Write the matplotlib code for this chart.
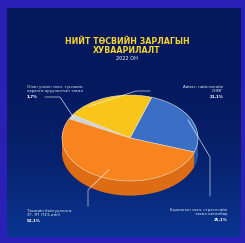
import numpy as np
import matplotlib
matplotlib.use('Agg')
import matplotlib.pyplot as plt
from matplotlib.colors import LinearSegmentedColormap

# Datos del grafico
etiquetas = ['Бодлогын зээл, стратегийн\nтөсөл хөтөлбөр',
             'Аймаг, нийслэлийн\nОНӨГ',
             'Олон улсын зээл, тусламж,\nхөрөнгө оруулалтын төсөл',
             'Төсвийн байгууллага,\nЗГ, ЯТ (ТЕЗ-ийн)']
porcentajes = [25.1, 21.1, 1.7, 52.1]
colores = ['#3b6fc6', '#f9c51a', '#cfd3d8', '#f7841e']
colores_lado = ['#2a55a3', '#d9a712', '#a6acb4', '#de6c14']

titulo = 'НИЙТ ТӨСВИЙН ЗАРЛАГЫН\nХУВААРИЛАЛТ'
subtitulo = '2022 ОН'

W, H = 245, 243
fig = plt.figure(figsize=(W/100, H/100), dpi=100)
fig.patch.set_facecolor('#2b20b6')

# Panel interior con degradado
fondo = fig.add_axes([7/W, 6/H, 233/W, 229/H])
grad = np.linspace(0, 1, 256).reshape(-1, 1)
cmap = LinearSegmentedColormap.from_list('f', ['#0a3590', '#07226e', '#05195e', '#05185c'])
fondo.imshow(grad, aspect='auto', cmap=cmap, origin='lower', extent=[0, 1, 0, 1])
fondo.set_axis_off()

# Titulo
fig.text(127/W, 1 - 46/H, titulo, color='#f6d42c', fontsize=5.7, fontweight='bold',
         ha='center', va='center', linespacing=1.05)
fig.text(127/W, 1 - 59/H, subtitulo, color='white', fontsize=3.6, ha='center', va='center')

# Pastel "3D": elipse con profundidad
cx, cy, rx, ry = 130, 138, 68, 43
ax = fig.add_axes([(cx-rx)/W, 1-(cy+ry)/H, 2*rx/W, 2*ry/H])
inicio = -19
prof = 0.34
for k in np.linspace(prof, 0.01, 14):
    ax.pie(porcentajes, colors=colores_lado, startangle=inicio, center=(0, -k),
           radius=1, frame=True, wedgeprops=dict(linewidth=0))
ax.pie(porcentajes, colors=colores, startangle=inicio, radius=1, frame=True,
       wedgeprops=dict(linewidth=0.4, edgecolor='#e9e2d0'))
ax.set_aspect('auto')
ax.set_xlim(-1, 1)
ax.set_ylim(-1, 1)
ax.set_axis_off()
for p in ax.patches:
    p.set_clip_on(False)

# Etiquetas con lineas guia
def a_fig(ang, r=1.0):
    x = cx + rx*r*np.cos(np.radians(ang))
    y = cy - ry*r*np.sin(np.radians(ang))
    return x, y

acum = np.cumsum([0] + porcentajes)
medios = inicio + (acum[:-1] + acum[1:]) / 2 * 3.6

pos_texto = [(227, 208, 'right'), (223, 85, 'right'), (27, 85, 'left'), (27, 209, 'left')]
codos = [[(210, 157), (210, 196)], [(136, 91), (150, 91)], [(60, 97), (45, 97)], [(88, 190), (88, 206)]]
radio_ancla = [0.95, 0.95, 0.95, 0.8]
for i in range(4):
    x0, y0 = a_fig(medios[i] if i != 1 else medios[i] + 20, radio_ancla[i])
    pts = [(x0, y0)] + codos[i]
    xs = [p[0]/W for p in pts]
    ys = [1 - p[1]/H for p in pts]
    fig.add_artist(plt.Line2D(xs, ys, color='white', linewidth=0.5, alpha=0.8))
    tx, ty, ha = pos_texto[i]
    fig.text(tx/W, 1 - ty/H, etiquetas[i], color='#dfe6f5', fontsize=2.8, ha=ha, va='top',
             multialignment=ha, linespacing=1.1)
    fig.text(tx/W, 1 - (ty + 9.5)/H, ('%.1f' % porcentajes[i]).replace('.', ',') + '%',
             color='white', fontsize=2.9, fontweight='bold', ha=ha, va='top')

fig.savefig('out.png', dpi=100, facecolor=fig.get_facecolor())
